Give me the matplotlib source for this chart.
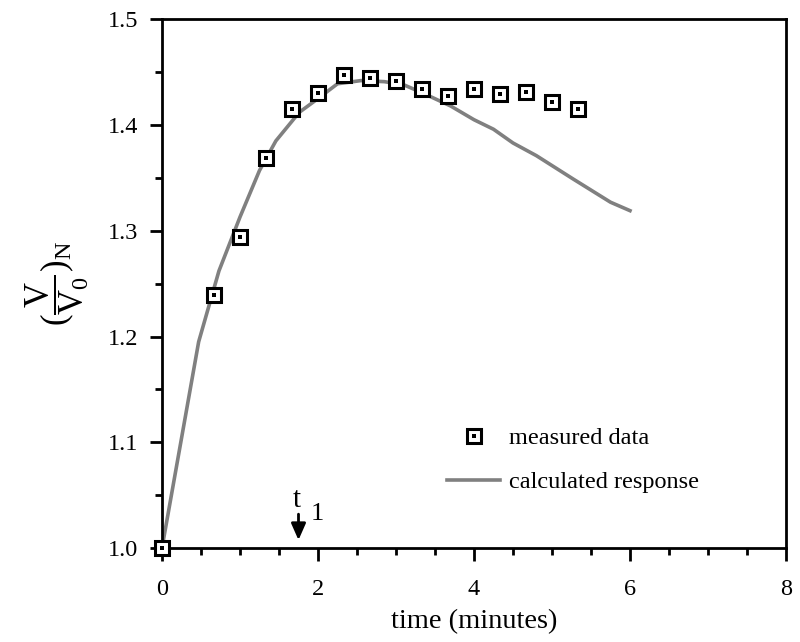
import matplotlib
matplotlib.use("Agg")
import matplotlib.pyplot as plt
from matplotlib.ticker import MultipleLocator, FuncFormatter
from matplotlib.legend_handler import HandlerTuple

plt.rcParams['font.family'] = ['Liberation Serif', 'DejaVu Serif']
plt.rcParams['mathtext.fontset'] = 'custom'
plt.rcParams['mathtext.rm'] = 'Liberation Serif'
plt.rcParams['mathtext.it'] = 'Liberation Serif:italic'

# measured data
meas_t = [0.0, 0.67, 1.0, 1.33, 1.67, 2.0, 2.33, 2.67, 3.0, 3.33, 3.67, 4.0, 4.33, 4.67, 5.0, 5.33]
meas_v = [1.0, 1.239, 1.294, 1.369, 1.415, 1.430, 1.447, 1.444, 1.442, 1.434, 1.427, 1.434, 1.429, 1.431, 1.422, 1.415]

# calculated response
calc_t = [0.0, 0.47, 0.73, 1.0, 1.25, 1.46, 1.76, 2.0, 2.25, 2.55, 2.85, 3.1, 3.35, 3.7, 4.0, 4.25,
          4.5, 4.8, 5.27, 5.75, 6.0]
calc_v = [1.0, 1.195, 1.262, 1.313, 1.357, 1.385, 1.412, 1.425, 1.439, 1.442, 1.441, 1.438, 1.430,
          1.418, 1.405, 1.396, 1.383, 1.371, 1.349, 1.327, 1.319]

fig = plt.figure(figsize=(8, 6.42), dpi=100)
ax = fig.add_axes([0.2025, 0.1464, 0.78, 0.8236])

line, = ax.plot(calc_t, calc_v, color='#808080', lw=2.6, zorder=2)
sq, = ax.plot(meas_t, meas_v, ls='none', marker='s', ms=9.5, mfc='white', mec='black', mew=2.2,
              zorder=3, clip_on=False)
dot, = ax.plot(meas_t, meas_v, ls='none', marker='s', ms=2.4, mfc='black', mec='black', mew=0,
               zorder=4, clip_on=False)

ax.set_xlim(0, 8)
ax.set_ylim(1.0, 1.5)
ax.xaxis.set_major_locator(MultipleLocator(2))
ax.xaxis.set_minor_locator(MultipleLocator(0.5))
ax.yaxis.set_major_locator(MultipleLocator(0.1))
ax.yaxis.set_minor_locator(MultipleLocator(0.05))
ax.tick_params(which='major', direction='out', length=9, width=2, labelsize=17.5)
ax.tick_params(axis='x', which='major', pad=13)
ax.tick_params(axis='y', which='major', pad=8)
ax.tick_params(which='minor', direction='out', length=5, width=2)
for s in ax.spines.values():
    s.set_linewidth(2)
ax.xaxis.set_major_formatter(FuncFormatter(lambda v, p: f"{v:.0f}"))
ax.yaxis.set_major_formatter(FuncFormatter(lambda v, p: f"{v:.1f}"))

ax.set_xlabel('time (minutes)', fontsize=20.5, labelpad=7)
ax.set_ylabel(r'$(\dfrac{\mathrm{V}}{\mathrm{V_0}})_\mathrm{N}$', fontsize=25, labelpad=12)

leg = ax.legend([(sq, dot), line], ['measured data', 'calculated response'],
                handler_map={tuple: HandlerTuple(ndivide=1, pad=0)},
                loc='upper left', bbox_to_anchor=(0.4567, 0.228), frameon=False,
                borderpad=0, borderaxespad=0,
                fontsize=17.5, handlelength=2.2, labelspacing=0.9, handletextpad=0.35)

ax.annotate('', xy=(1.75, 1.0075), xytext=(1.75, 1.032),
            arrowprops=dict(arrowstyle='-|>,head_length=0.5,head_width=0.22', color='black',
                            lw=2, mutation_scale=20, shrinkA=0, shrinkB=0))
ax.text(1.729, 1.0387, 't', fontsize=21, ha='center', va='baseline')
ax.text(1.90, 1.0264, '1', fontsize=19, ha='left', va='baseline')

fig.savefig('out.png', dpi=100)
